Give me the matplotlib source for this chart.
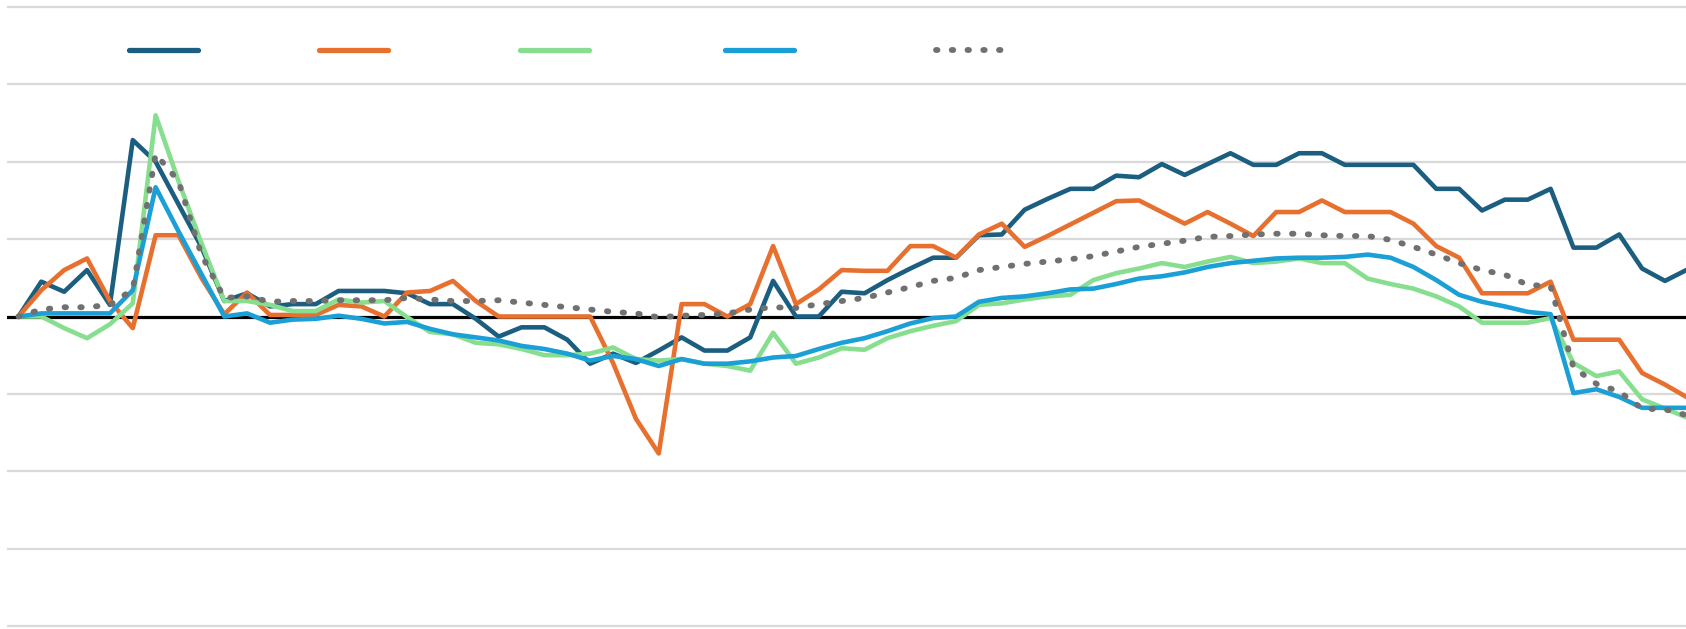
import matplotlib
matplotlib.use("Agg")
import matplotlib.pyplot as plt
from matplotlib.lines import Line2D

# ---- data (x = period index) ----
series_a = [0, 0.45, 0.32, 0.6, 0.15, 2.28, 2.0, 1.45, 0.9, 0.2,
            0.3, 0.13, 0.16, 0.16, 0.33, 0.33, 0.33, 0.3, 0.16, 0.16,
            -0.03, -0.26, -0.14, -0.14, -0.3, -0.61, -0.48, -0.6, -0.44, -0.27,
            -0.44, -0.44, -0.27, 0.46, 0, 0, 0.32, 0.3, 0.47, 0.62,
            0.76, 0.76, 1.05, 1.06, 1.38, 1.52, 1.65, 1.65, 1.82, 1.8,
            1.97, 1.83, 1.97, 2.11, 1.96, 1.96, 2.11, 2.11, 1.96, 1.96,
            1.96, 1.96, 1.65, 1.65, 1.37, 1.51, 1.51, 1.65, 0.89, 0.89,
            1.06, 0.62, 0.46, 0.61]
series_b = [0, 0.34, 0.6, 0.75, 0.2, -0.15, 1.05, 1.05, 0.5, 0.03,
            0.31, 0.02, 0.02, 0.02, 0.15, 0.13, 0, 0.31, 0.33, 0.46,
            0.2, 0, 0, 0, 0, 0, -0.6, -1.32, -1.77, 0.16,
            0.16, 0, 0.16, 0.91, 0.16, 0.35, 0.6, 0.59, 0.59, 0.91,
            0.91, 0.76, 1.06, 1.2, 0.9, 1.04, 1.19, 1.34, 1.49, 1.5,
            1.35, 1.2, 1.35, 1.2, 1.04, 1.35, 1.35, 1.5, 1.35, 1.35,
            1.35, 1.2, 0.91, 0.76, 0.3, 0.3, 0.3, 0.45, -0.3, -0.3,
            -0.3, -0.73, -0.88, -1.05]
series_c = [0, 0, -0.15, -0.28, -0.1, 0.17, 2.6, 1.75, 0.95, 0.2,
            0.2, 0.15, 0.07, 0.07, 0.22, 0.18, 0.2, -0.01, -0.2, -0.23,
            -0.34, -0.36, -0.42, -0.5, -0.5, -0.48, -0.4, -0.55, -0.57, -0.55,
            -0.61, -0.64, -0.7, -0.21, -0.61, -0.53, -0.41, -0.43, -0.28, -0.19,
            -0.12, -0.06, 0.15, 0.17, 0.22, 0.26, 0.28, 0.47, 0.56, 0.62,
            0.69, 0.64, 0.71, 0.77, 0.69, 0.71, 0.75, 0.69, 0.69, 0.49,
            0.42, 0.36, 0.26, 0.13, -0.08, -0.08, -0.08, -0.02, -0.6, -0.77,
            -0.71, -1.07, -1.19, -1.31]
series_d = [0, 0.04, 0.04, 0.04, 0.04, 0.34, 1.67, 1.1, 0.55, 0,
            0.04, -0.08, -0.04, -0.03, 0.01, -0.03, -0.09, -0.07, -0.16, -0.23,
            -0.27, -0.31, -0.38, -0.42, -0.48, -0.57, -0.51, -0.55, -0.64, -0.55,
            -0.61, -0.61, -0.58, -0.53, -0.51, -0.42, -0.34, -0.28, -0.19, -0.09,
            -0.02, 0, 0.19, 0.24, 0.26, 0.3, 0.35, 0.36, 0.42, 0.49,
            0.52, 0.57, 0.64, 0.69, 0.72, 0.75, 0.76, 0.76, 0.77, 0.8,
            0.76, 0.64, 0.47, 0.28, 0.19, 0.13, 0.06, 0.03, -0.99, -0.94,
            -1.04, -1.18, -1.18, -1.18]
series_avg = [0, 0.09, 0.12, 0.12, 0.15, 0.35, 2.1, 1.75, 0.8, 0.24,
              0.26, 0.19, 0.2, 0.2, 0.21, 0.21, 0.21, 0.24, 0.22, 0.2,
              0.2, 0.21, 0.18, 0.15, 0.12, 0.09, 0.06, 0.04, -0.01, 0.01,
              0.02, 0.04, 0.09, 0.12, 0.11, 0.16, 0.2, 0.24, 0.31, 0.38,
              0.46, 0.5, 0.6, 0.64, 0.68, 0.71, 0.74, 0.78, 0.84, 0.9,
              0.94, 0.98, 1.03, 1.04, 1.06, 1.07, 1.07, 1.05, 1.04, 1.04,
              0.99, 0.9, 0.8, 0.69, 0.6, 0.54, 0.41, 0.39, -0.66, -0.87,
              -0.97, -1.19, -1.2, -1.28]
x = list(range(len(series_a)))
grid_values = [-4, -3, -2, -1, 1, 2, 3, 4]

colors = ["#1B5E80", "#E8702F", "#86DE8E", "#1A9FD6", "#707070"]

W, H = 1686, 629
fig = plt.figure(figsize=(W / 100, H / 100), dpi=100)
fig.patch.set_facecolor("white")

px_per_unit = 77.375
zero_px = 316.5
ylo, yhi = -4.1, 4.1
top_px = zero_px - yhi * px_per_unit
bot_px = zero_px - ylo * px_per_unit
ax = fig.add_axes([7 / W, (H - bot_px) / H, 1679 / W, (bot_px - top_px) / H])
ax.set_xlim(-0.5, 72.92)
ax.set_ylim(ylo, yhi)
ax.axis("off")

for g in grid_values:
    ax.axhline(g, color="#d9d9d9", lw=1.6, zorder=1)
ax.axhline(0, color="black", lw=2.3, zorder=2)

lw = 3.3
handles = []
for ys, c in zip([series_a, series_b, series_c, series_d], colors[:4]):
    ax.plot(x, ys, color=c, lw=lw, solid_joinstyle="round",
            solid_capstyle="round", zorder=3)
    handles.append(Line2D([], [], color=c, lw=3.8, solid_capstyle="round"))
dot_lw = 4.2
dot_style = (0, (0.25, 2.45))
ax.plot(x, series_avg, color=colors[4], lw=dot_lw,
        linestyle=dot_style, dash_capstyle="round", zorder=4)
handles.append(Line2D([], [], color=colors[4], lw=dot_lw,
                      linestyle=dot_style, dash_capstyle="round"))

legend_x_px = [129, 319, 520, 725, 936]
legend_y_px = 51
for h, lx in zip(handles, legend_x_px):
    fig.legend(handles=[h], labels=[""], loc="center left",
               bbox_to_anchor=(lx / W, 1 - legend_y_px / H),
               frameon=False, borderpad=0, borderaxespad=0,
               handletextpad=0, handlelength=5.0, fontsize=10)

fig.savefig("out.png", dpi=100, facecolor="white")
